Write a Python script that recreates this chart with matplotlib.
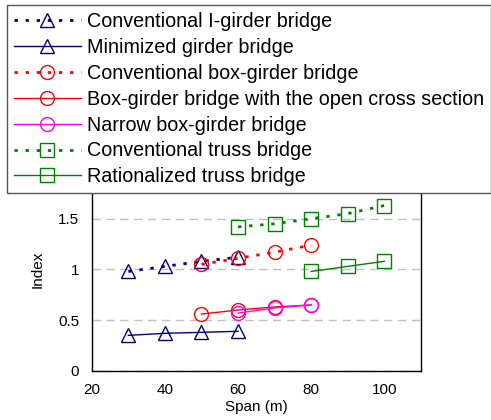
import matplotlib

matplotlib.use("Agg")
import matplotlib.pyplot as plt

plt.rcParams["font.family"] = ["Liberation Sans", "DejaVu Sans"]

# span (m) and index values per bridge type
span_i = [30, 40, 50, 60]
conv_i = [0.98, 1.03, 1.08, 1.12]
mini_i = [0.35, 0.37, 0.38, 0.39]

span_box = [50, 60, 70, 80]
conv_box = [1.05, 1.11, 1.17, 1.24]
open_box = [0.56, 0.60, 0.63, 0.65]

span_narrow = [60, 70, 80]
narrow_box = [0.57, 0.62, 0.65]

span_truss = [60, 70, 80, 90, 100]
conv_truss = [1.42, 1.45, 1.50, 1.55, 1.63]

span_rat = [80, 90, 100]
rat_truss = [0.98, 1.03, 1.08]

xticks = [20, 40, 60, 80, 100]
yticks = [0, 0.5, 1, 1.5]

fig = plt.figure(figsize=(4.91, 4.2), dpi=100)
ax = fig.add_axes([0.187, 0.117, 0.67, 0.483])

dot = (0, (1.2, 2.8))
mk = dict(markersize=10, markerfacecolor="none", markeredgewidth=1.0)

ax.plot(span_i, conv_i, color="#000080", ls=dot, lw=2, marker="^", label="Conventional I-girder bridge", **mk)
ax.plot(span_i, mini_i, color="#000080", ls="-", lw=1, marker="^", label="Minimized girder bridge", **mk)
ax.plot(span_box, conv_box, color="#ff0000", ls=dot, lw=2, marker="o", label="Conventional box-girder bridge", **mk)
ax.plot(span_box, open_box, color="#ff0000", ls="-", lw=1, marker="o", label="Box-girder bridge with the open cross section", **mk)
ax.plot(span_narrow, narrow_box, color="#ff00ff", ls="-", lw=1, marker="o", label="Narrow box-girder bridge", **mk)
ax.plot(span_truss, conv_truss, color="#008000", ls=dot, lw=2, marker="s", label="Conventional truss bridge", **mk)
ax.plot(span_rat, rat_truss, color="#008000", ls="-", lw=1, marker="s", label="Rationalized truss bridge", **mk)

ax.set_xlim(20, 110)
ax.set_ylim(0, 2)
ax.set_xticks(xticks)
ax.set_yticks(yticks)
ax.set_yticklabels(["0", "0.5", "1", "1.5"])
ax.tick_params(length=0, labelsize=11, pad=9)
ax.grid(axis="y", color="#c0c0c0", ls=(0, (6, 4)), lw=1)
ax.set_axisbelow(True)
for s in ax.spines.values():
    s.set_color("#000000")
    s.set_linewidth(1)
ax.set_xlabel("Span (m)", fontsize=11, labelpad=2)
ax.set_ylabel("Index", fontsize=11, labelpad=10)

leg = fig.legend(loc="upper left", bbox_to_anchor=(0.0143, 0.988), fontsize=14.2,
                 frameon=True, fancybox=False, handlelength=3.4, handletextpad=0.3,
                 labelspacing=0.35, borderpad=0.35, borderaxespad=0)
leg.get_frame().set_edgecolor("#555555")
leg.get_frame().set_linewidth(1)
leg.get_frame().set_alpha(1)

fig.savefig("out.png", dpi=100)
